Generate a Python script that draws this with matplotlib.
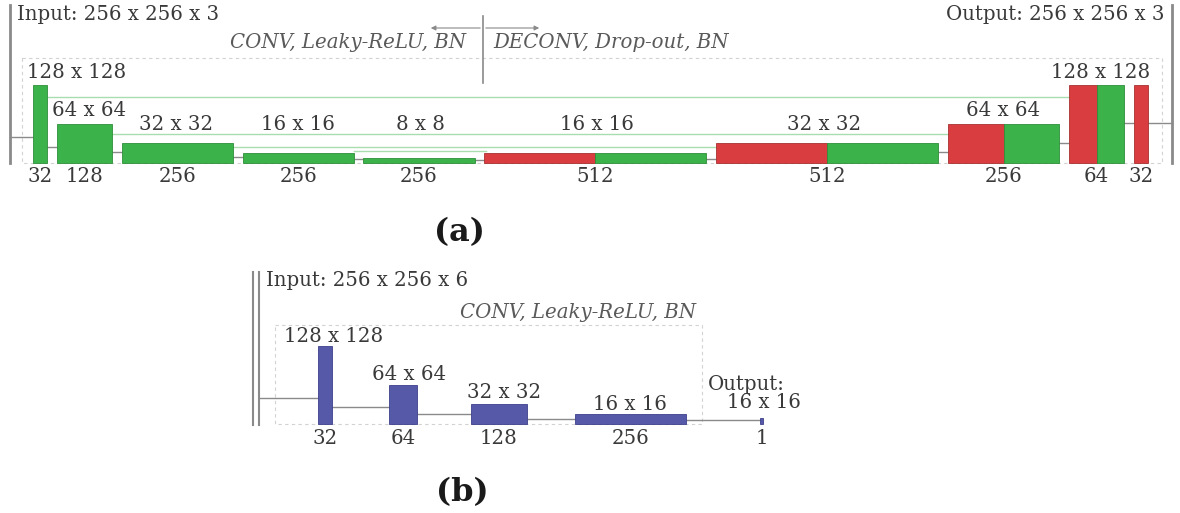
import numpy as np
import matplotlib.pyplot as plt
from matplotlib.patches import Rectangle

plt.rcParams['font.family'] = ['DejaVu Serif']

# generator (a): spatial size of each block and its channels
enc_size = [128, 64, 32, 16, 8]
enc_ch = [32, 128, 256, 256, 256]
dec_size = [16, 32, 64, 128, 128]
dec_red = [256, 256, 128, 64, 32]      # deconv part
dec_green = [256, 256, 128, 64, 0]     # skip part (concatenated)
dec_ch = [512, 512, 256, 64, 32]
size_lbl_a = ['128 x 128', '64 x 64', '32 x 32', '16 x 16', '8 x 8',
              '16 x 16', '32 x 32', '64 x 64', '128 x 128']

# discriminator (b)
dis_size = [128, 64, 32, 16, 16]
dis_ch = [32, 64, 128, 256, 1]
size_lbl_b = ['128 x 128', '64 x 64', '32 x 32', '16 x 16']

GREEN = '#3cb34a'
RED = '#d93d3f'
BLUE = '#5659a8'
GRAY = '#8a8a8a'
TXT = '#3a3a3a'
ITX = '#5a5a5a'
FS = 14.2
IFS = 14.2

wsc = 0.434   # px per channel
hsc = 0.61    # px per spatial unit

fig = plt.figure(figsize=(11.8, 5.13), dpi=100)
ax = fig.add_axes([0, 0, 1, 1])
ax.set_xlim(0, 1180)
ax.set_ylim(513, 0)
ax.axis('off')

# ---------------- (a) generator ----------------
base = 163
ax.add_patch(Rectangle((22, 58), 1140, base - 58, fill=False, ec='#d2d2d2',
                       ls=(0, (3, 3)), lw=0.8))
ax.plot([10, 10], [5, base], color=GRAY, lw=2)
ax.plot([1172, 1172], [5, base], color=GRAY, lw=2)

# skip connections (light green)
for y, x0, x1 in [(97, 47, 1069), (134, 111, 948), (147, 232, 717), (151, 354, 486)]:
    ax.plot([x0, x1], [y, y], color='#a9dcae', lw=1, zorder=1)

x = 33
gap = 9.7
rights = []
lefts = []
for s, c in zip(enc_size, enc_ch):
    w = c * wsc
    h = s * hsc
    ax.add_patch(Rectangle((x, base - h), w, h, fc=GREEN, ec='#2f8f3a', lw=0.6, zorder=2))
    lefts.append(x); rights.append(x + w)
    x += w + gap
for s, r, g in zip(dec_size, dec_red, dec_green):
    h = s * hsc
    wr = r * wsc
    wg = g * wsc
    ax.add_patch(Rectangle((x, base - h), wr, h, fc=RED, ec='#a83030', lw=0.6, zorder=2))
    if g:
        ax.add_patch(Rectangle((x + wr, base - h), wg, h, fc=GREEN, ec='#2f8f3a',
                               lw=0.6, zorder=2))
    lefts.append(x); rights.append(x + wr + wg)
    x += wr + wg + gap

# gray connectors between blocks
conn_a = [26, 16, 11, 6, 4, 3, 4, 11, 20, 40, 40]
edges = [10] + rights
targets = lefts + [1172]
for x0, x1, d in zip(edges, targets, conn_a):
    ax.plot([x0, x1], [base - d, base - d], color=GRAY, lw=1, zorder=1)

# labels
chs = enc_ch + dec_ch
for i, c in enumerate(chs):
    cx = (lefts[i] + rights[i]) / 2
    ax.text(cx, 177, str(c), ha='center', va='center', fontsize=FS, color=TXT)
lbl_x = [77, 89, 176, 298, 420, 597, 824, 1003, 1101]
lbl_y = [73, 110, 124, 124, 124, 124, 124, 110, 73]
for t, lx, ly in zip(size_lbl_a, lbl_x, lbl_y):
    ax.text(lx, ly, t, ha='center', va='center', fontsize=FS, color=TXT)
ax.text(17, 15, 'Input: 256 x 256 x 3', ha='left', va='center',
        fontsize=FS, color=TXT)
ax.text(1164, 15, 'Output: 256 x 256 x 3', ha='right', va='center',
        fontsize=FS, color=TXT)
ax.text(466, 43, 'CONV, Leaky-ReLU, BN', ha='right', va='center', fontsize=IFS,
        style='italic', color=ITX)
ax.text(493, 43, 'DECONV, Drop-out, BN', ha='left', va='center', fontsize=IFS,
        style='italic', color=ITX)
ax.plot([483, 483], [16, 83], color=GRAY, lw=1.2)
ax.annotate('', xy=(428, 28), xytext=(483, 28),
            arrowprops=dict(arrowstyle='-|>', color=GRAY, lw=0.8, mutation_scale=7))
ax.annotate('', xy=(542, 28), xytext=(483, 28),
            arrowprops=dict(arrowstyle='-|>', color=GRAY, lw=0.8, mutation_scale=7))
ax.text(459, 233, '(a)', ha='center', va='center', fontsize=23, fontweight='bold',
        color='#1a1a1a')

# ---------------- (b) discriminator ----------------
base_b = 424
ax.add_patch(Rectangle((275, 325), 427, base_b - 325, fill=False, ec='#d2d2d2',
                       ls=(0, (3, 3)), lw=0.8))
ax.plot([253, 253], [272, 425], color=GRAY, lw=1.5)
ax.plot([259, 259], [272, 425], color=GRAY, lw=1.5)

xs_b = [318, 389, 471, 575, 760]
bl, br = [], []
for xb, s, c in zip(xs_b, dis_size, dis_ch):
    w = max(c * wsc, 3)
    h = s * hsc * (0.6 if c == 1 else 1)
    ax.add_patch(Rectangle((xb, base_b - h), w, h, fc=BLUE, ec='#3d408a', lw=0.6, zorder=2))
    bl.append(xb); br.append(xb + w)
    ax.text(xb + w / 2, 438, str(c), ha='center', va='center', fontsize=FS, color=TXT)

conn_b = [26, 17, 10, 5, 4]
for x0, x1, d in zip([259] + br[:-1], bl, conn_b):
    ax.plot([x0, x1], [base_b - d, base_b - d], color=GRAY, lw=1, zorder=1)

lbl_bx = [334, 409, 504, 630]
lbl_by = [337, 375, 393, 404]
for t, lx, ly in zip(size_lbl_b, lbl_bx, lbl_by):
    ax.text(lx, ly, t, ha='center', va='center', fontsize=FS, color=TXT)
ax.text(266, 281, 'Input: 256 x 256 x 6', ha='left', va='center', fontsize=FS, color=TXT)
ax.text(696, 313, 'CONV, Leaky-ReLU, BN', ha='right', va='center', fontsize=IFS,
        style='italic', color=ITX)
ax.text(708, 384, 'Output:', ha='left', va='center', fontsize=FS, color=TXT)
ax.text(764, 403, '16 x 16', ha='center', va='center', fontsize=FS, color=TXT)
ax.text(462, 493, '(b)', ha='center', va='center', fontsize=23, fontweight='bold',
        color='#1a1a1a')

fig.savefig('out.png', dpi=100, facecolor='white')
